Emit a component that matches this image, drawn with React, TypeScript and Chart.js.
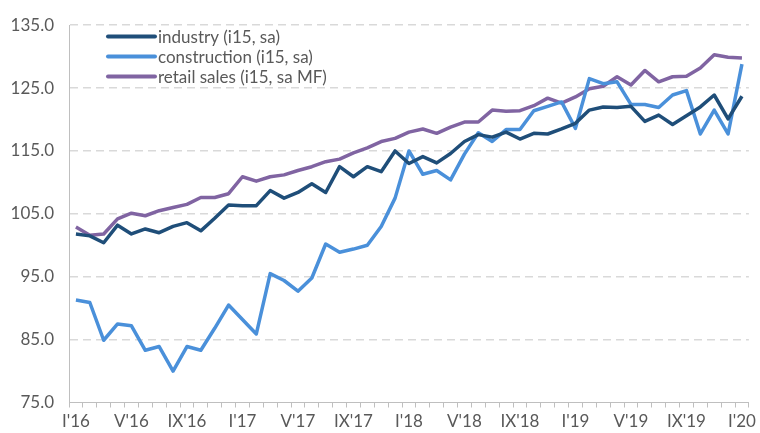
import React, { useEffect, useRef } from "react";
import { Chart, registerables } from "chart.js";

Chart.register(...registerables);

const monthNumerals = ["I", "II", "III", "IV", "V", "VI", "VII", "VIII", "IX", "X", "XI", "XII"];
const years = ["16", "17", "18", "19", "20"];
const categories: string[] = [];
years.forEach((y) => {
  monthNumerals.forEach((m) => {
    if (y === "20" && m !== "I") return;
    categories.push(m + "'" + y);
  });
});
const tickLabels = ["I'16", "V'16", "IX'16", "I'17", "V'17", "IX'17", "I'18", "V'18", "IX'18", "I'19", "V'19", "IX'19", "I'20"];

const industry = [
  101.8, 101.5, 100.4, 103.2, 101.8, 102.6, 102.0, 103.0, 103.6, 102.3, 104.3, 106.4,
  106.3, 106.3, 108.7, 107.5, 108.4, 109.8, 108.4, 112.5, 110.9, 112.5, 111.7, 115.0,
  113.0, 114.1, 113.1, 114.6, 116.5, 117.6, 117.2, 118.0, 116.9, 117.8, 117.7, 118.5,
  119.4, 121.5, 122.0, 121.9, 122.1, 119.7, 120.7, 119.2, 120.6, 122.0, 123.9, 120.1,
  123.7,
];
const construction = [
  91.3, 90.9, 84.9, 87.5, 87.2, 83.3, 83.9, 80.0, 83.9, 83.3, 86.8, 90.5,
  88.2, 85.9, 95.5, 94.4, 92.7, 94.8, 100.2, 98.9, 99.4, 100.0, 103.0, 107.5,
  115.0, 111.3, 111.9, 110.4, 114.5, 117.9, 116.5, 118.4, 118.4, 121.4, 122.1, 122.8,
  118.6, 126.5, 125.7, 126.0, 122.4, 122.4, 121.9, 123.9, 124.6, 117.7, 121.5, 117.7,
  128.8,
];
const retail = [
  102.9, 101.6, 101.8, 104.2, 105.1, 104.7, 105.5, 106.0, 106.5, 107.6, 107.6, 108.2,
  110.9, 110.2, 110.9, 111.2, 111.9, 112.5, 113.3, 113.7, 114.7, 115.5, 116.5, 117.0,
  118.0, 118.5, 117.8, 118.8, 119.6, 119.6, 121.5, 121.3, 121.4, 122.2, 123.4, 122.6,
  123.6, 124.9, 125.3, 126.8, 125.5, 127.8, 126.0, 126.8, 126.9, 128.2, 130.3, 129.9,
  129.8,
];

const seriesLabels = ["industry (i15, sa)", "construction (i15, sa)", "retail sales (i15, sa MF)"];
const seriesColors = ["#1F4E79", "#4A90DA", "#8064A2"];

const FONT = 'Lato, "Open Sans", sans-serif';
const TEXT_COLOR = "#595959";
const FONT_SIZE = 17;

const legendPlugin = {
  id: "insideLegend",
  afterDraw(chart: any) {
    const ctx = chart.ctx;
    const x0 = 108;
    const x1 = 155;
    const yStart = 36.5;
    const rowH = 20;
    ctx.save();
    chart.data.datasets.forEach((ds: any, i: number) => {
      const y = yStart + i * rowH;
      ctx.strokeStyle = ds.borderColor;
      ctx.lineWidth = 4;
      ctx.lineCap = "round";
      ctx.beginPath();
      ctx.moveTo(x0, y);
      ctx.lineTo(x1, y);
      ctx.stroke();
      ctx.fillStyle = TEXT_COLOR;
      ctx.font = FONT_SIZE + "px " + FONT;
      ctx.textBaseline = "middle";
      ctx.textAlign = "left";
      ctx.fillText(ds.label, x1 + 3, y + 1);
    });
    ctx.restore();
  },
};

export default function App() {
  const canvasRef = useRef<HTMLCanvasElement | null>(null);

  useEffect(() => {
    document.body.style.margin = "0";
    const canvas = canvasRef.current;
    if (!canvas) return;
    const data = [industry, construction, retail];
    const chart = new Chart(canvas, {
      type: "line",
      data: {
        labels: categories,
        datasets: data.map((d, i) => ({
          label: seriesLabels[i],
          data: d,
          borderColor: seriesColors[i],
          backgroundColor: seriesColors[i],
          borderWidth: 3.5,
          pointRadius: 0,
          tension: 0,
          borderJoinStyle: "round" as const,
        })),
      },
      options: {
        animation: false,
        responsive: false,
        devicePixelRatio: 1,
        layout: { padding: { left: 0, right: 8, top: 23, bottom: 0 } },
        plugins: {
          legend: { display: false },
          tooltip: { enabled: false },
        },
        scales: {
          x: {
            offset: true,
            afterFit: (s: any) => {
              s.height = 30.5;
            },
            grid: {
              offset: true,
              drawOnChartArea: false,
              drawTicks: true,
              tickLength: 5,
              color: "#bfbfbf",
            },
            border: { display: true, color: "#bfbfbf", width: 1 },
            ticks: {
              autoSkip: false,
              maxRotation: 0,
              minRotation: 0,
              padding: 4,
              color: TEXT_COLOR,
              font: { family: FONT, size: FONT_SIZE },
              callback: (_v: any, i: number) => {
                const lab = categories[i];
                return tickLabels.includes(lab) ? lab : "";
              },
            },
          },
          y: {
            min: 75,
            max: 135,
            afterFit: (s: any) => {
              s.width = 69;
            },
            grid: {
              drawTicks: false,
              color: (c: any) => (c.tick && c.tick.value === 75 ? "rgba(0,0,0,0)" : "#d9d9d9"),
              lineWidth: 1.5,
            },
            border: { display: true, color: "#bfbfbf", width: 1, dash: [8, 5] },
            ticks: {
              stepSize: 10,
              padding: 15,
              color: TEXT_COLOR,
              font: { family: FONT, size: FONT_SIZE },
              callback: (v: any) => Number(v).toFixed(1),
            },
          },
        },
      },
      plugins: [legendPlugin],
    });
    return () => chart.destroy();
  }, []);

  return (
    <div style={{ position: "fixed", left: 0, top: 0, width: 760, height: 433, background: "#fff" }}>
      <canvas ref={canvasRef} width={760} height={433} />
    </div>
  );
}
